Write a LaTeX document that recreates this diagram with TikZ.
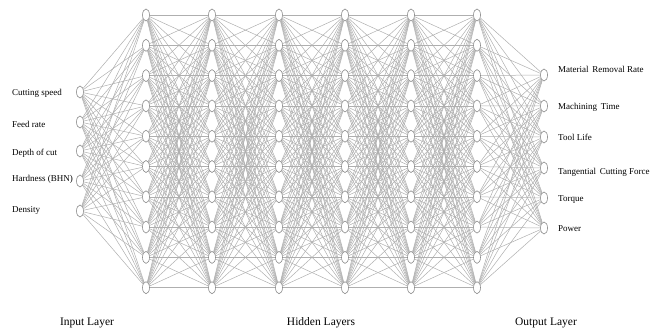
\documentclass[tikz,border=0pt]{standalone}
\usepackage{fontspec}
\setmainfont{Liberation Serif}
\usetikzlibrary{
	shapes.geometric,
	backgrounds,
	positioning
}
\definecolor{LinkGray}{RGB}{175,175,175}
\definecolor{RimGray}{RGB}{140,140,140}

\tikzset{
	neuron/.style={ellipse, draw=RimGray, fill=white, line width=0.6pt,
		minimum width=7pt, minimum height=12pt, inner sep=0pt},
	link/.style={LinkGray, line width=0.5pt},
	featlabel/.style={font=\fontsize{9}{10}\selectfont, anchor=west, inner sep=0pt},
	layerlabel/.style={font=\fontsize{11.5}{13}\selectfont, inner sep=0pt}
}

\begin{document}
\begin{tikzpicture}[x=1pt, y=-1pt]
	\useasboundingbox (0,0) rectangle (652,336);
	% input layer
	\foreach \i/\yy in {1/92,2/122,3/151,4/181,5/211}
		\node[neuron] (I\i) at (80,\yy) {};
	% hidden layers
	\foreach \l/\xx in {1/146,2/212,3/279,4/345,5/411,6/477}
		\foreach \j in {1,...,10}
			\node[neuron] (H\l-\j) at (\xx,{15+(\j-1)*30.3}) {};
	% output layer
	\foreach \k/\yy in {1/75,2/106,3/137,4/168,5/198,6/228}
		\node[neuron] (O\k) at (544,\yy) {};
	% connections
	\begin{scope}[on background layer]
		\foreach \i in {1,...,5}
			\foreach \j in {1,...,10}
				\draw[link] (I\i) -- (H1-\j);
		\foreach \l [evaluate=\l as \m using int(\l+1)] in {1,...,5}
			\foreach \i in {1,...,10}
				\foreach \j in {1,...,10}
					\draw[link] (H\l-\i) -- (H\m-\j);
		\foreach \i in {1,...,10}
			\foreach \k in {1,...,6}
				\draw[link] (H6-\i) -- (O\k);
	\end{scope}
	% feature names
	\node[featlabel] (f1) at (12,93) {Cutting speed};
	\node[featlabel] (f2) at (12,124) {Feed rate};
	\node[featlabel] (f3) at (12,153) {Depth of cut};
	\node[featlabel] (f4) at (12,179) {Hardness (BHN)};
	\node[featlabel] (f5) at (12,210) {Density};
	\node[featlabel] (t1) at (558,69) {Material\, Removal Rate};
	\node[featlabel] (t2) at (558,107) {Machining\, Time};
	\node[featlabel] (t3) at (558,137) {Tool Life};
	\node[featlabel] (t4) at (558,172) {Tangential\, Cutting Force};
	\node[featlabel] (t5) at (558,200) {Torque};
	\node[featlabel] (t6) at (558,229) {Power};
	% layer names
	\node[layerlabel] (inname) at (87,323) {Input Layer};
	\node[layerlabel] (hidname) at (321,323) {Hidden Layers};
	\node[layerlabel] (outname) at (546,323) {Output Layer};
\end{tikzpicture}
\end{document}
